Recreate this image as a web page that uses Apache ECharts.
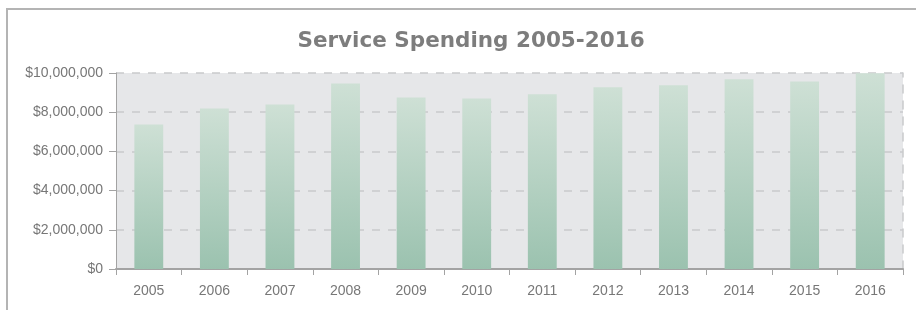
<!DOCTYPE html>
<html>
<head>
<meta charset="utf-8">
<script src="https://cdn.jsdelivr.net/npm/echarts@6/dist/echarts.min.js"></script>
<style>
html,body{margin:0;padding:0;background:#fff;}
#chart{width:916px;height:310px;}
</style>
</head>
<body>
<div id="chart"></div>
<script>
var titleText = 'Service Spending 2005-2016';
var years = ['2005','2006','2007','2008','2009','2010','2011','2012','2013','2014','2015','2016'];
var spending = [7370000, 8190000, 8390000, 9470000, 8750000, 8700000, 8910000, 9270000, 9370000, 9680000, 9570000, 9990000];
var yTicks = [0, 2000000, 4000000, 6000000, 8000000, 10000000];

function fmtMoney(v){
  return '$' + String(v).replace(/\B(?=(\d{3})+(?!\d))/g, ',');
}

var chart = echarts.init(document.getElementById('chart'), null, {renderer:'canvas'});
chart.setOption({
  animation:false,
  backgroundColor:'#ffffff',
  title:{
    text:titleText,
    left:466, top:25, textAlign:'center',
    textStyle:{fontFamily:'DejaVu Sans', fontWeight:'bold', fontSize:21.5, color:'#7d7d7d'}
  },
  graphic:[{
    type:'polyline', silent:true,
    shape:{points:[[7,310],[7,9],[916,9]]},
    style:{stroke:'#b4b4b4', lineWidth:2, fill:null}
  }],
  grid:{left:116, right:13, top:73, bottom:41, show:true, backgroundColor:'#e6e7e9', borderWidth:0},
  xAxis:{
    type:'category', data:years,
    axisLine:{lineStyle:{color:'#a3a3a3', width:2}},
    axisTick:{show:true, length:6, alignWithLabel:false, lineStyle:{color:'#a3a3a3'}},
    axisLabel:{margin:15, fontFamily:'Liberation Sans', fontSize:14, color:'#777'},
    splitLine:{show:false}
  },
  yAxis:[{
    type:'value', min:yTicks[0], max:yTicks[yTicks.length-1], interval:yTicks[1]-yTicks[0],
    axisLine:{show:true, lineStyle:{color:'#a3a3a3', width:1}},
    axisTick:{show:true, length:7, lineStyle:{color:'#a3a3a3'}},
    axisLabel:{margin:13, fontFamily:'Liberation Sans', fontSize:14, color:'#777', formatter:fmtMoney},
    splitLine:{show:true, lineStyle:{color:'#c9cacc', type:[8,8], width:1.5}}
  },{
    type:'value', min:yTicks[0], max:yTicks[yTicks.length-1], interval:yTicks[1]-yTicks[0],
    position:'right',
    axisLine:{show:true, lineStyle:{color:'#c9cacc', type:[8,8], width:1.5}},
    axisTick:{show:false}, axisLabel:{show:false}, splitLine:{show:false}
  }],
  series:[{
    type:'bar', data:spending, barWidth:'44%',
    itemStyle:{color:new echarts.graphic.LinearGradient(0,0,0,1,[{offset:0,color:'#cee0d5'},{offset:1,color:'#9bc2af'}])}
  }]
});
</script>
</body>
</html>
